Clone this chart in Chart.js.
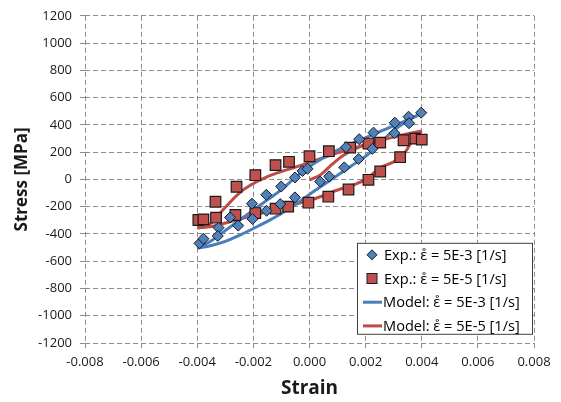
<!DOCTYPE html>
<html>
<head>
<meta charset="utf-8">
<script src="https://cdn.jsdelivr.net/npm/chart.js@4.4.3/dist/chart.umd.min.js"></script>
<style>
  html, body { margin: 0; padding: 0; background: #fff; }
  #wrap { width: 561px; height: 402px; }
</style>
</head>
<body>
<div id="wrap"><canvas id="c" width="561" height="402"></canvas></div>
<script>
// axis ticks
const xTicks = [-0.008, -0.006, -0.004, -0.002, 0, 0.002, 0.004, 0.006, 0.008];
const yTicks = [-1200, -1000, -800, -600, -400, -200, 0, 200, 400, 600, 800, 1000, 1200];

const seriesLabels = [
  'Exp.: \u03B5\u030A = 5E-3 [1/s]',
  'Exp.: \u03B5\u030A = 5E-5 [1/s]',
  'Model: \u03B5\u030A = 5E-3 [1/s]',
  'Model: \u03B5\u030A = 5E-5 [1/s]'
];

// experiment, strain rate 5E-3  [strain, stress]
const expFast = [
  [-0.00392, -469], [-0.00378, -435], [-0.00324, -354], [-0.00283, -279], [-0.00205, -178],
  [-0.00154, -113], [-0.00101, -52], [-0.00052, 14], [-0.00025, 62], [-0.00007, 78],
  [0.00130, 236], [0.00177, 295], [0.00228, 343], [0.00304, 416], [0.00353, 460], [0.00398, 489],
  [0.00355, 412], [0.00303, 339], [0.00224, 224], [0.00175, 150], [0.00124, 88], [0.00070, 22],
  [0.00038, -16], [-0.00052, -132], [-0.00104, -181], [-0.00153, -230], [-0.00203, -291],
  [-0.00254, -339], [-0.00327, -415]
];

// experiment, strain rate 5E-5
const expSlow = [
  [-0.00396, -298], [-0.00378, -293], [-0.00335, -164], [-0.00260, -54], [-0.00193, 31],
  [-0.00121, 105], [-0.00073, 129], [0.00000, 170], [0.00069, 207], [0.00145, 233],
  [0.00210, 263], [0.00252, 270], [0.00335, 287], [0.00377, 299], [0.00400, 292],
  [0.00323, 163], [0.00252, 58], [0.00210, -3], [0.00139, -74], [0.00067, -127],
  [-0.00004, -171], [-0.00076, -200], [-0.00121, -215], [-0.00193, -247], [-0.00264, -261],
  [-0.00333, -281]
];

// model 5E-3: loading and unloading branches
const modelFastLoad = [
  [-0.004, -505], [-0.0035, -450], [-0.003, -375], [-0.0025, -300], [-0.002, -225],
  [-0.0015, -150], [-0.001, -75], [-0.0005, 15], [0, 95], [0.0005, 160], [0.001, 215],
  [0.0015, 262], [0.002, 305], [0.0025, 350], [0.003, 392], [0.0035, 438], [0.004, 485]
];
const modelFastUnload = [
  [0.004, 485], [0.0035, 430], [0.003, 360], [0.0025, 262], [0.002, 170], [0.0015, 100],
  [0.001, 30], [0.0005, -40], [0, -110], [-0.0005, -185], [-0.001, -250], [-0.0015, -308],
  [-0.002, -360], [-0.0025, -410], [-0.003, -455], [-0.0035, -485], [-0.004, -505]
];

// model 5E-5: initial loading, loading and unloading branches
const modelSlowInit = [
  [0, -5], [0.0004, 35], [0.0008, 110], [0.0012, 175], [0.0016, 220], [0.0019, 248]
];
const modelSlowLoad = [
  [-0.004, -355], [-0.0037, -345], [-0.0035, -320], [-0.003, -205], [-0.0025, -100],
  [-0.002, -30], [-0.0015, 20], [-0.001, 58], [-0.0005, 90], [0, 125], [0.0005, 160],
  [0.001, 195], [0.0015, 225], [0.002, 255], [0.0025, 285], [0.003, 310], [0.0035, 335], [0.004, 355]
];
const modelSlowUnload = [
  [0.004, 355], [0.0038, 320], [0.0036, 262], [0.0033, 168], [0.003, 128], [0.0025, 82],
  [0.002, 0], [0.0015, -45], [0.001, -78], [0.0005, -118], [0, -155], [-0.0005, -180],
  [-0.001, -205], [-0.0015, -235], [-0.002, -265], [-0.0025, -290], [-0.003, -320],
  [-0.0035, -345], [-0.004, -355]
];

const BLUE = '#4f81bd', BLUE_LINE = '#4a7ebb';
const RED = '#c0504d', RED_LINE = '#be4b48';
const toXY = pts => pts.map(([x, y]) => ({ x, y }));

function lineSet(label, pts, color) {
  return {
    label, data: toXY(pts), showLine: true, borderColor: color, borderWidth: 3,
    pointRadius: 0, tension: 0.4, fill: false, order: 2
  };
}

// legend drawn inside the plot with a box, like the original
const legendBox = {
  id: 'legendBox',
  afterDraw(chart) {
    const ctx = chart.ctx, a = chart.chartArea;
    const x0 = a.right - 177, y0 = a.top + 227, w = 175, h = 91;
    ctx.save();
    ctx.fillStyle = '#fff';
    ctx.fillRect(x0, y0, w, h);
    ctx.strokeStyle = '#404040';
    ctx.lineWidth = 1;
    ctx.strokeRect(x0 + 0.5, y0 + 0.5, w, h);
    ctx.font = '14.6px "Open Sans"';
    ctx.textBaseline = 'middle';
    ctx.fillStyle = '#000';
    const ds = chart.data.datasets;
    for (let i = 0; i < 4; i++) {
      const d = ds[i];
      const cy = y0 + 12 + i * 23.7;
      const cx = x0 + 15;
      if (i === 0) {
        ctx.beginPath();
        ctx.moveTo(cx, cy - 5); ctx.lineTo(cx + 5, cy); ctx.lineTo(cx, cy + 5); ctx.lineTo(cx - 5, cy);
        ctx.closePath();
        ctx.fillStyle = d.backgroundColor; ctx.fill();
        ctx.strokeStyle = d.borderColor; ctx.stroke();
      } else if (i === 1) {
        ctx.fillStyle = d.backgroundColor;
        ctx.fillRect(cx - 5, cy - 5, 10, 10);
        ctx.strokeStyle = d.borderColor;
        ctx.strokeRect(cx - 5, cy - 5, 10, 10);
      } else {
        ctx.beginPath();
        ctx.moveTo(cx - 9, cy); ctx.lineTo(cx + 10, cy);
        ctx.strokeStyle = d.borderColor; ctx.lineWidth = 3; ctx.stroke();
        ctx.lineWidth = 1;
      }
      ctx.fillStyle = '#000';
      ctx.fillText(d.label, cx + (i < 2 ? 12 : 11), cy + 1);
    }
    ctx.restore();
  }
};

const gridStyle = {
  color: '#8c8c8c', lineWidth: 1, tickLength: 5, tickColor: '#8c8c8c', tickBorderDash: []
};

new Chart(document.getElementById('c'), {
  type: 'scatter',
  data: {
    datasets: [
      {
        label: seriesLabels[0], data: toXY(expFast), pointStyle: 'rectRot', pointRadius: 5.5,
        backgroundColor: BLUE, borderColor: '#1a1a1a', borderWidth: 1, order: 0
      },
      {
        label: seriesLabels[1], data: toXY(expSlow), pointStyle: 'rect', pointRadius: 7.5,
        backgroundColor: RED, borderColor: '#1a1a1a', borderWidth: 1.2, order: 1
      },
      lineSet(seriesLabels[2], modelFastLoad, BLUE_LINE),
      lineSet(seriesLabels[3], modelSlowLoad, RED_LINE),
      lineSet('', modelFastUnload, BLUE_LINE),
      lineSet('', modelSlowUnload, RED_LINE),
      lineSet('', modelSlowInit, RED_LINE)
    ]
  },
  options: {
    responsive: false,
    animation: false,
    layout: { padding: { left: 0, right: 27, top: 15, bottom: 0 } },
    plugins: { legend: { display: false }, tooltip: { enabled: false } },
    scales: {
      x: {
        type: 'linear', min: -0.008, max: 0.008,
        afterBuildTicks: s => { s.ticks = xTicks.map(v => ({ value: v })); },
        afterFit: s => { s.height = 59; },
        grid: gridStyle,
        border: { display: false, dash: [5, 3] },
        ticks: {
          padding: 6, color: '#1a1a1a', font: { family: 'Open Sans', size: 13 },
          callback: v => v.toFixed(3)
        },
        title: {
          display: true, text: 'Strain', color: '#1a1a1a',
          font: { family: 'Open Sans', size: 19, weight: 'bold' },
          padding: { top: 0, bottom: 2 }
        }
      },
      y: {
        type: 'linear', min: -1200, max: 1200,
        afterBuildTicks: s => { s.ticks = yTicks.map(v => ({ value: v })); },
        afterFit: s => { s.width = 85; },
        grid: gridStyle,
        border: { display: false, dash: [5, 3] },
        ticks: {
          padding: 8, color: '#1a1a1a', font: { family: 'Open Sans', size: 13 },
          callback: v => String(v)
        },
        title: {
          display: true, text: 'Stress [MPa]', color: '#1a1a1a',
          font: { family: 'Open Sans', size: 17, weight: 'bold' },
          padding: { top: 12, bottom: 0 }
        }
      }
    }
  },
  plugins: [legendBox]
});
</script>
</body>
</html>
